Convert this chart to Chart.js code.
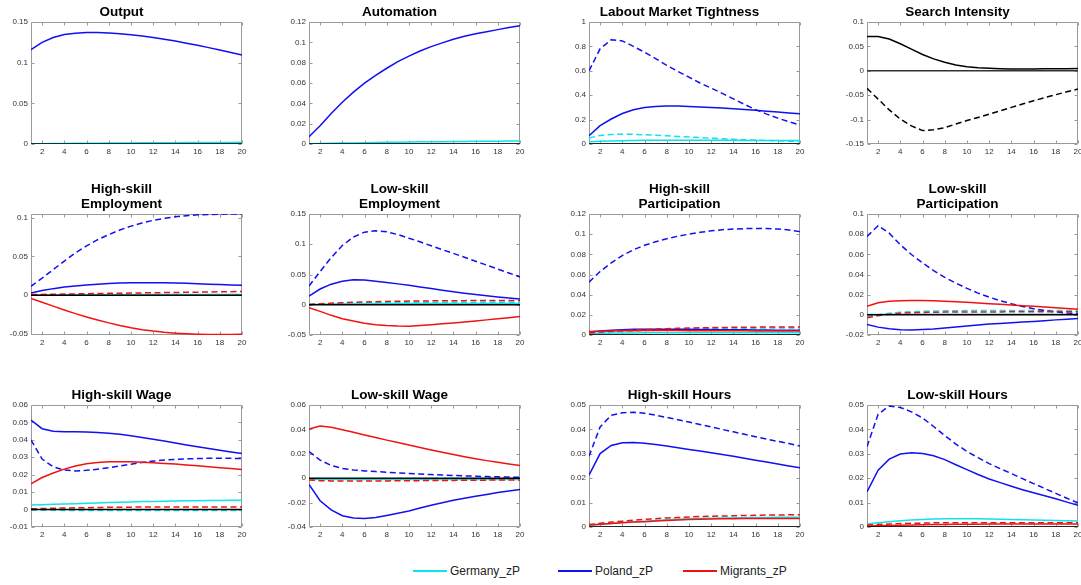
<!DOCTYPE html>
<html>
<head>
<meta charset="utf-8">
<script src="https://cdn.jsdelivr.net/npm/chart.js@4.4.1/dist/chart.umd.min.js"></script>
<style>
  html, body { margin: 0; padding: 0; background: #fff; width: 1081px; height: 585px; overflow: hidden; position: relative; }
  canvas { position: absolute; }
  .lg-item { position: absolute; top: 563px; height: 16px; font: 12px "Liberation Sans", Arial, Helvetica, sans-serif; color: #222; white-space: nowrap; }
  .lg-swatch { position: absolute; left: 0; top: 7px; width: 34px; height: 1.5px; }
  .lg-text { position: absolute; left: 37px; top: 0; line-height: 16px; }
</style>
</head>
<body>
<script>
// ---- horizon and axis ticks ----
const periods = [1, 2, 3, 4, 5, 6, 7, 8, 9, 10, 11, 12, 13, 14, 15, 16, 17, 18, 19, 20];
const xTickValues = [2, 4, 6, 8, 10, 12, 14, 16, 18, 20];
const zeroLine = [0, 0, 0, 0, 0, 0, 0, 0, 0, 0, 0, 0, 0, 0, 0, 0, 0, 0, 0, 0];

// ---- Output ----
const outputTicks = [0, 0.05, 0.1, 0.15];
const outputPoland = [0.116, 0.125, 0.131, 0.1345, 0.1362, 0.137, 0.1372, 0.1366, 0.1356, 0.1343, 0.1327, 0.1308, 0.1288, 0.1265, 0.124, 0.1213, 0.1185, 0.1155, 0.1125, 0.1095];
const outputGermany = [0.0002, 0.0003, 0.0005, 0.0006, 0.0008, 0.0009, 0.001, 0.0011, 0.0012, 0.0013, 0.0014, 0.0015, 0.0016, 0.0016, 0.0017, 0.0018, 0.0018, 0.0019, 0.0019, 0.002];

// ---- Automation ----
const automationTicks = [0, 0.02, 0.04, 0.06, 0.08, 0.1, 0.12];
const automationPoland = [0.0072, 0.018, 0.03, 0.041, 0.051, 0.0598, 0.0675, 0.0745, 0.081, 0.0865, 0.0915, 0.0958, 0.0995, 0.103, 0.106, 0.1085, 0.1105, 0.1125, 0.1145, 0.1162];
const automationGermany = [0.0003, 0.0005, 0.0007, 0.0009, 0.0011, 0.0013, 0.0015, 0.0016, 0.0018, 0.0019, 0.0021, 0.0022, 0.0023, 0.0024, 0.0025, 0.0026, 0.0027, 0.0028, 0.0029, 0.003];

// ---- Labour market tightness ----
const tightnessTicks = [0, 0.2, 0.4, 0.6, 0.8, 1];
const tightnessPoland = [0.068, 0.15, 0.205, 0.25, 0.28, 0.3, 0.308, 0.312, 0.311, 0.308, 0.304, 0.3, 0.295, 0.289, 0.283, 0.276, 0.269, 0.262, 0.255, 0.247];
const tightnessPolandAlt = [0.6, 0.78, 0.855, 0.845, 0.8, 0.752, 0.7, 0.645, 0.595, 0.548, 0.5, 0.458, 0.415, 0.37, 0.325, 0.282, 0.245, 0.212, 0.183, 0.156];
const tightnessGermany = [0.018, 0.022, 0.025, 0.027, 0.029, 0.03, 0.031, 0.031, 0.031, 0.031, 0.031, 0.03, 0.03, 0.03, 0.029, 0.029, 0.029, 0.028, 0.028, 0.028];
const tightnessGermanyAlt = [0.05, 0.07, 0.078, 0.08, 0.079, 0.076, 0.072, 0.067, 0.062, 0.057, 0.052, 0.047, 0.043, 0.039, 0.035, 0.032, 0.029, 0.026, 0.023, 0.02];

// ---- Search intensity ----
const searchTicks = [-0.15, -0.1, -0.05, 0, 0.05, 0.1];
const searchIntensity = [0.0705, 0.0705, 0.065, 0.0555, 0.0445, 0.0335, 0.0245, 0.0175, 0.012, 0.0085, 0.0063, 0.005, 0.0042, 0.0038, 0.0037, 0.0038, 0.004, 0.0042, 0.0044, 0.0046];
const searchIntensityAlt = [-0.036, -0.058, -0.08, -0.099, -0.113, -0.1225, -0.121, -0.1165, -0.109, -0.102, -0.0955, -0.089, -0.082, -0.075, -0.068, -0.0615, -0.055, -0.049, -0.043, -0.0375];

// ---- High-skill employment ----
const hsEmpTicks = [-0.05, 0, 0.05, 0.1];
const hsEmpPoland = [0.003, 0.006, 0.0085, 0.0105, 0.012, 0.0133, 0.0143, 0.015, 0.0156, 0.016, 0.0162, 0.0162, 0.016, 0.0157, 0.0153, 0.0148, 0.0143, 0.0138, 0.0133, 0.0128];
const hsEmpPolandAlt = [0.0115, 0.022, 0.033, 0.044, 0.0545, 0.0635, 0.0715, 0.078, 0.084, 0.089, 0.093, 0.0965, 0.099, 0.101, 0.1025, 0.1035, 0.104, 0.1044, 0.1045, 0.1045];
const hsEmpMigrants = [-0.0043, -0.009, -0.014, -0.019, -0.0237, -0.028, -0.032, -0.0356, -0.039, -0.042, -0.0443, -0.0462, -0.0477, -0.0488, -0.0496, -0.0501, -0.0504, -0.0505, -0.0504, -0.0502];
const hsEmpMigrantsAlt = [0.0008, 0.001, 0.0013, 0.0015, 0.0017, 0.002, 0.0022, 0.0024, 0.0026, 0.0028, 0.003, 0.0032, 0.0034, 0.0036, 0.0038, 0.004, 0.0042, 0.0044, 0.0046, 0.0048];
const hsEmpGermany = [0.0002, 0.0003, 0.0004, 0.0005, 0.0005, 0.0006, 0.0006, 0.0007, 0.0007, 0.0007, 0.0008, 0.0008, 0.0008, 0.0008, 0.0008, 0.0009, 0.0009, 0.0009, 0.0009, 0.0009];

// ---- Low-skill employment ----
const lsEmpTicks = [-0.05, 0, 0.05, 0.1, 0.15];
const lsEmpPoland = [0.0144, 0.026, 0.034, 0.039, 0.0412, 0.0408, 0.039, 0.0368, 0.0345, 0.0322, 0.0295, 0.0267, 0.024, 0.0213, 0.019, 0.0168, 0.0148, 0.013, 0.0112, 0.0095];
const lsEmpPolandAlt = [0.031, 0.055, 0.078, 0.098, 0.112, 0.12, 0.1222, 0.1205, 0.116, 0.11, 0.104, 0.0975, 0.091, 0.085, 0.0785, 0.072, 0.0655, 0.059, 0.0525, 0.046];
const lsEmpMigrants = [-0.005, -0.011, -0.0175, -0.023, -0.027, -0.0305, -0.033, -0.0344, -0.0352, -0.0355, -0.0343, -0.033, -0.0316, -0.03, -0.0284, -0.0267, -0.025, -0.0233, -0.0213, -0.0194];
const lsEmpMigrantsAlt = [0.0005, 0.0015, 0.0025, 0.0033, 0.004, 0.0046, 0.0051, 0.0055, 0.0058, 0.006, 0.0062, 0.0064, 0.0066, 0.0067, 0.0068, 0.0069, 0.007, 0.007, 0.007, 0.007];
const lsEmpGermany = [0.0006, 0.001, 0.0013, 0.0015, 0.0017, 0.0018, 0.0019, 0.002, 0.002, 0.0021, 0.0021, 0.0021, 0.0021, 0.0021, 0.0021, 0.0021, 0.0021, 0.0021, 0.0021, 0.0021];
const lsEmpGermanyAlt = [0.001, 0.0016, 0.0021, 0.0025, 0.0028, 0.003, 0.0032, 0.0034, 0.0035, 0.0036, 0.0037, 0.0038, 0.0038, 0.0039, 0.0039, 0.0039, 0.004, 0.004, 0.004, 0.004];

// ---- High-skill participation ----
const hsPartTicks = [0, 0.02, 0.04, 0.06, 0.08, 0.1, 0.12];
const hsPartPoland = [0.003, 0.004, 0.0048, 0.0053, 0.0056, 0.0058, 0.0058, 0.0058, 0.0057, 0.0056, 0.0055, 0.0054, 0.0053, 0.0052, 0.0051, 0.005, 0.0049, 0.0048, 0.0047, 0.0046];
const hsPartPolandAlt = [0.0524, 0.063, 0.0715, 0.0788, 0.0845, 0.089, 0.0925, 0.0955, 0.098, 0.1, 0.1018, 0.1033, 0.1044, 0.1051, 0.1055, 0.1056, 0.1055, 0.1051, 0.1042, 0.1025];
const hsPartMigrants = [0.0035, 0.0038, 0.004, 0.0042, 0.0043, 0.0044, 0.0044, 0.0044, 0.0044, 0.0043, 0.0043, 0.0042, 0.0042, 0.0041, 0.0041, 0.004, 0.004, 0.004, 0.0039, 0.0039];
const hsPartMigrantsAlt = [0.002, 0.003, 0.0038, 0.0045, 0.005, 0.0055, 0.0059, 0.0063, 0.0066, 0.0069, 0.0071, 0.0073, 0.0075, 0.0076, 0.0077, 0.0078, 0.0079, 0.008, 0.008, 0.008];
const hsPartGermany = [0.0015, 0.0017, 0.0019, 0.002, 0.0021, 0.0022, 0.0022, 0.0022, 0.0022, 0.0022, 0.0022, 0.0022, 0.0022, 0.0022, 0.0022, 0.0022, 0.0022, 0.0022, 0.0022, 0.0022];
const hsPartGermanyAlt = [0.001, 0.002, 0.0028, 0.0035, 0.004, 0.0045, 0.0049, 0.0053, 0.0056, 0.0059, 0.0061, 0.0063, 0.0065, 0.0066, 0.0067, 0.0068, 0.0069, 0.007, 0.007, 0.007];

// ---- Low-skill participation ----
const lsPartTicks = [-0.02, 0, 0.02, 0.04, 0.06, 0.08, 0.1];
const lsPartPoland = [-0.0095, -0.0122, -0.0138, -0.0147, -0.015, -0.0146, -0.014, -0.013, -0.012, -0.011, -0.01, -0.0092, -0.0085, -0.0078, -0.0072, -0.0066, -0.0058, -0.005, -0.0044, -0.0037];
const lsPartPolandAlt = [0.0778, 0.0885, 0.081, 0.0695, 0.0598, 0.0515, 0.0438, 0.0372, 0.0315, 0.0262, 0.0215, 0.0175, 0.014, 0.011, 0.0083, 0.006, 0.0042, 0.0028, 0.0018, 0.0012];
const lsPartMigrants = [0.0085, 0.012, 0.0134, 0.014, 0.0142, 0.0141, 0.0139, 0.0135, 0.013, 0.0124, 0.0117, 0.011, 0.0104, 0.0098, 0.0091, 0.0085, 0.0078, 0.0071, 0.0063, 0.0056];
const lsPartMigrantsAlt = [-0.003, -0.0008, 0.0007, 0.0016, 0.0021, 0.0024, 0.0026, 0.0027, 0.0028, 0.0028, 0.0029, 0.0029, 0.0029, 0.003, 0.003, 0.003, 0.003, 0.003, 0.003, 0.003];
const lsPartGermany = [0.0003, 0.0004, 0.0005, 0.0006, 0.0006, 0.0007, 0.0007, 0.0007, 0.0007, 0.0007, 0.0007, 0.0007, 0.0007, 0.0007, 0.0007, 0.0007, 0.0007, 0.0007, 0.0007, 0.0007];
const lsPartGermanyAlt = [-0.002, 0, 0.0015, 0.0025, 0.003, 0.0035, 0.0038, 0.004, 0.0041, 0.0042, 0.0042, 0.0043, 0.0043, 0.0043, 0.0043, 0.0043, 0.0043, 0.0043, 0.0043, 0.0043];

// ---- High-skill wage ----
const hsWageTicks = [-0.01, 0, 0.01, 0.02, 0.03, 0.04, 0.05, 0.06];
const hsWagePoland = [0.0514, 0.0464, 0.0449, 0.0447, 0.0446, 0.0445, 0.0442, 0.0438, 0.0432, 0.0423, 0.0414, 0.0404, 0.0393, 0.0382, 0.0371, 0.036, 0.035, 0.034, 0.0331, 0.0322];
const hsWagePolandAlt = [0.0399, 0.029, 0.0245, 0.0227, 0.0222, 0.0225, 0.0232, 0.024, 0.025, 0.026, 0.027, 0.0278, 0.0284, 0.0288, 0.0291, 0.0293, 0.0294, 0.0295, 0.0294, 0.0293];
const hsWageMigrants = [0.0148, 0.0184, 0.021, 0.0232, 0.025, 0.0263, 0.027, 0.0274, 0.0275, 0.0274, 0.0272, 0.0268, 0.0265, 0.0261, 0.0256, 0.0251, 0.0246, 0.024, 0.0235, 0.023];
const hsWageMigrantsAlt = [0.0004, 0.0006, 0.0008, 0.0009, 0.001, 0.0011, 0.0012, 0.0013, 0.0014, 0.0014, 0.0015, 0.0015, 0.0015, 0.0015, 0.0015, 0.0015, 0.0015, 0.0015, 0.0015, 0.0015];
const hsWageGermany = [0.0026, 0.0028, 0.003, 0.0032, 0.0034, 0.0036, 0.0038, 0.004, 0.0042, 0.0044, 0.0046, 0.0047, 0.0048, 0.0049, 0.005, 0.0051, 0.0052, 0.0052, 0.0053, 0.0053];
const hsWageGermanyAlt = [-0.0003, -0.0004, -0.0004, -0.0005, -0.0005, -0.0005, -0.0005, -0.0005, -0.0005, -0.0005, -0.0005, -0.0005, -0.0005, -0.0005, -0.0005, -0.0005, -0.0005, -0.0005, -0.0005, -0.0005];

// ---- Low-skill wage ----
const lsWageTicks = [-0.04, -0.02, 0, 0.02, 0.04, 0.06];
const lsWagePoland = [-0.0052, -0.0185, -0.026, -0.0308, -0.0327, -0.0331, -0.0322, -0.0306, -0.0288, -0.0268, -0.0245, -0.0222, -0.0201, -0.0181, -0.0164, -0.0148, -0.0133, -0.0118, -0.0105, -0.0093];
const lsWagePolandAlt = [0.0219, 0.0148, 0.0105, 0.008, 0.0068, 0.006, 0.0054, 0.0049, 0.0043, 0.0038, 0.0034, 0.003, 0.0026, 0.0022, 0.0019, 0.0016, 0.0013, 0.0011, 0.0009, 0.0008];
const lsWageMigrants = [0.0403, 0.0427, 0.0418, 0.0398, 0.0376, 0.0354, 0.0333, 0.0312, 0.0292, 0.0272, 0.0252, 0.0232, 0.0213, 0.0194, 0.0176, 0.0159, 0.0144, 0.013, 0.0117, 0.0104];
const lsWageMigrantsAlt = [-0.0015, -0.002, -0.0022, -0.0023, -0.0023, -0.0023, -0.0022, -0.0022, -0.0021, -0.002, -0.002, -0.0019, -0.0018, -0.0018, -0.0017, -0.0016, -0.0016, -0.0015, -0.0015, -0.0014];
const lsWageGermany = [-0.0008, -0.001, -0.0011, -0.0011, -0.0011, -0.0011, -0.0011, -0.0011, -0.0011, -0.0011, -0.0011, -0.0011, -0.0011, -0.0011, -0.0011, -0.0011, -0.0011, -0.0011, -0.0011, -0.0011];

// ---- High-skill hours ----
const hsHoursTicks = [0, 0.01, 0.02, 0.03, 0.04, 0.05];
const hsHoursPoland = [0.0212, 0.0301, 0.0334, 0.0345, 0.0346, 0.0343, 0.0338, 0.0332, 0.0325, 0.0318, 0.0311, 0.0304, 0.0297, 0.029, 0.0282, 0.0274, 0.0266, 0.0258, 0.025, 0.0243];
const hsHoursPolandAlt = [0.029, 0.041, 0.0458, 0.0468, 0.047, 0.0466, 0.0458, 0.0449, 0.044, 0.043, 0.042, 0.041, 0.04, 0.039, 0.038, 0.037, 0.036, 0.0351, 0.0342, 0.0332];
const hsHoursMigrants = [0.0008, 0.0011, 0.0014, 0.0017, 0.002, 0.0022, 0.0025, 0.0027, 0.0029, 0.0031, 0.0032, 0.0033, 0.0034, 0.0034, 0.0035, 0.0035, 0.0035, 0.0035, 0.0035, 0.0035];
const hsHoursMigrantsAlt = [0.001, 0.0015, 0.002, 0.0024, 0.0028, 0.0031, 0.0034, 0.0037, 0.0039, 0.0041, 0.0043, 0.0044, 0.0045, 0.0046, 0.0047, 0.0048, 0.0049, 0.0049, 0.005, 0.005];
const hsHoursGermany = [0.0007, 0.001, 0.0014, 0.0018, 0.0021, 0.0024, 0.0027, 0.003, 0.0032, 0.0034, 0.0035, 0.0036, 0.0037, 0.0038, 0.0038, 0.0039, 0.0039, 0.004, 0.004, 0.004];

// ---- Low-skill hours ----
const lsHoursTicks = [0, 0.01, 0.02, 0.03, 0.04, 0.05];
const lsHoursPoland = [0.0144, 0.0233, 0.0278, 0.0299, 0.0304, 0.0301, 0.0292, 0.0276, 0.0255, 0.0235, 0.0215, 0.0197, 0.0182, 0.0167, 0.0153, 0.014, 0.0128, 0.0116, 0.0102, 0.0089];
const lsHoursPolandAlt = [0.0329, 0.0462, 0.0496, 0.049, 0.0472, 0.0447, 0.0412, 0.0375, 0.034, 0.031, 0.0284, 0.026, 0.0239, 0.0219, 0.0198, 0.0178, 0.0158, 0.0138, 0.0118, 0.0099];
const lsHoursMigrants = [0.0004, 0.0005, 0.0006, 0.0007, 0.0008, 0.0009, 0.001, 0.001, 0.0011, 0.0011, 0.0011, 0.0012, 0.0012, 0.0012, 0.0012, 0.0012, 0.0012, 0.0012, 0.0012, 0.0012];
const lsHoursMigrantsAlt = [0.0008, 0.001, 0.0012, 0.0014, 0.0015, 0.0016, 0.0017, 0.0017, 0.0017, 0.0017, 0.0017, 0.0017, 0.0017, 0.0017, 0.0017, 0.0017, 0.0017, 0.0017, 0.0017, 0.0017];
const lsHoursGermany = [0.0012, 0.0017, 0.0022, 0.0026, 0.0029, 0.0031, 0.0033, 0.0034, 0.0034, 0.0034, 0.0034, 0.0033, 0.0032, 0.0031, 0.003, 0.0029, 0.0028, 0.0027, 0.0026, 0.0025];

// ---- legend ----
const legendNames = ['Germany_zP', 'Poland_zP', 'Migrants_zP'];

// ---- styling ----
const FONT = '"Liberation Sans", Arial, Helvetica, sans-serif';
const CYAN = '#10e2ea';
const BLUE = '#1010f0';
const RED = '#f01212';
const BLACK = '#000000';
const DASH = [6, 3.5];
const LINE_W = 1.5;
const legendColors = [CYAN, BLUE, RED];

// plot-area geometry (pixels)
const COL_LEFT = [31, 309, 589, 867];
const PLOT_W = 211;
const ROWS = [
  { top: 22, h: 122 },
  { top: 214, h: 121 },
  { top: 405, h: 122 }
];
const SIDE = 30;      // y-axis band on the left, equal padding on the right
const X_AXIS_H = 16;
const TITLE_LH = 15;
const TITLE_PAD = 2;
const TICK_LEN = 3;

const S = (data, color, dashed) => ({ data, color, dashed: !!dashed });

const panels = [
  { title: ['Output'], ticks: outputTicks, lines: [
      S(zeroLine, BLACK), S(outputPoland, BLUE), S(outputGermany, CYAN)] },
  { title: ['Automation'], ticks: automationTicks, lines: [
      S(zeroLine, BLACK), S(automationPoland, BLUE), S(automationGermany, CYAN)] },
  { title: ['Labout Market Tightness'], ticks: tightnessTicks, lines: [
      S(zeroLine, BLACK), S(tightnessPoland, BLUE), S(tightnessPolandAlt, BLUE, true),
      S(tightnessGermany, CYAN), S(tightnessGermanyAlt, CYAN, true)] },
  { title: ['Search Intensity'], ticks: searchTicks, lines: [
      S(zeroLine, '#333333'), S(searchIntensity, BLACK), S(searchIntensityAlt, BLACK, true)] },

  { title: ['High-skill', 'Employment'], ticks: hsEmpTicks, min: -0.0512, max: 0.1046, lines: [
      S(zeroLine, BLACK), S(hsEmpMigrants, RED), S(hsEmpMigrantsAlt, RED, true),
      S(hsEmpPoland, BLUE), S(hsEmpPolandAlt, BLUE, true), S(hsEmpGermany, CYAN)] },
  { title: ['Low-skill', 'Employment'], ticks: lsEmpTicks, lines: [
      S(zeroLine, BLACK), S(lsEmpMigrants, RED), S(lsEmpMigrantsAlt, RED, true),
      S(lsEmpPoland, BLUE), S(lsEmpPolandAlt, BLUE, true),
      S(lsEmpGermany, CYAN), S(lsEmpGermanyAlt, CYAN, true)] },
  { title: ['High-skill', 'Participation'], ticks: hsPartTicks, lines: [
      S(zeroLine, BLACK), S(hsPartMigrants, RED), S(hsPartMigrantsAlt, RED, true),
      S(hsPartPoland, BLUE), S(hsPartPolandAlt, BLUE, true),
      S(hsPartGermany, CYAN), S(hsPartGermanyAlt, CYAN, true)] },
  { title: ['Low-skill', 'Participation'], ticks: lsPartTicks, lines: [
      S(zeroLine, BLACK), S(lsPartMigrants, RED), S(lsPartMigrantsAlt, RED, true),
      S(lsPartPoland, BLUE), S(lsPartPolandAlt, BLUE, true),
      S(lsPartGermany, CYAN), S(lsPartGermanyAlt, CYAN, true)] },

  { title: ['High-skill Wage'], ticks: hsWageTicks, lines: [
      S(zeroLine, BLACK), S(hsWageMigrants, RED), S(hsWageMigrantsAlt, RED, true),
      S(hsWagePoland, BLUE), S(hsWagePolandAlt, BLUE, true),
      S(hsWageGermany, CYAN), S(hsWageGermanyAlt, CYAN, true)] },
  { title: ['Low-skill Wage'], ticks: lsWageTicks, lines: [
      S(zeroLine, BLACK), S(lsWageMigrants, RED), S(lsWageMigrantsAlt, RED, true),
      S(lsWagePoland, BLUE), S(lsWagePolandAlt, BLUE, true), S(lsWageGermany, CYAN)] },
  { title: ['High-skill Hours'], ticks: hsHoursTicks, lines: [
      S(zeroLine, BLACK), S(hsHoursMigrants, RED), S(hsHoursMigrantsAlt, RED, true),
      S(hsHoursPoland, BLUE), S(hsHoursPolandAlt, BLUE, true), S(hsHoursGermany, CYAN)] },
  { title: ['Low-skill Hours'], ticks: lsHoursTicks, lines: [
      S(zeroLine, BLACK), S(lsHoursMigrants, RED), S(lsHoursMigrantsAlt, RED, true),
      S(lsHoursPoland, BLUE), S(lsHoursPolandAlt, BLUE, true), S(lsHoursGermany, CYAN)] }
];

// box around the axes with short inward ticks on all four sides
const axesFrame = {
  id: 'axesFrame',
  beforeDatasetsDraw(chart) {
    const { ctx, chartArea: a, scales: { x, y } } = chart;
    const l = Math.round(a.left) + 0.5, r = Math.round(a.right) - 0.5;
    const t = Math.round(a.top) + 0.5, b = Math.round(a.bottom) - 0.5;
    ctx.save();
    ctx.strokeStyle = '#9a9a9a';
    ctx.lineWidth = 1;
    ctx.beginPath();
    ctx.rect(l, t, r - l, b - t);
    x.ticks.forEach(tk => {
      const px = Math.round(x.getPixelForValue(tk.value)) + 0.5;
      ctx.moveTo(px, b); ctx.lineTo(px, b - TICK_LEN);
      ctx.moveTo(px, t); ctx.lineTo(px, t + TICK_LEN);
    });
    y.ticks.forEach(tk => {
      const py = Math.round(y.getPixelForValue(tk.value)) + 0.5;
      ctx.moveTo(l, py); ctx.lineTo(l + TICK_LEN, py);
      ctx.moveTo(r, py); ctx.lineTo(r - TICK_LEN, py);
    });
    ctx.stroke();
    ctx.restore();
  }
};

const fmt = v => String(parseFloat(Number(v).toFixed(6)));

panels.forEach((p, i) => {
  const col = i % 4, row = ROWS[Math.floor(i / 4)];
  const titleH = p.title.length * TITLE_LH + TITLE_PAD;
  const canvas = document.createElement('canvas');
  const w = SIDE + PLOT_W + SIDE;
  const h = titleH + row.h + X_AXIS_H;
  canvas.width = w; canvas.height = h;
  canvas.style.width = w + 'px'; canvas.style.height = h + 'px';
  canvas.style.left = (COL_LEFT[col] - SIDE) + 'px';
  canvas.style.top = (row.top - titleH) + 'px';
  document.body.appendChild(canvas);

  const yMin = p.min !== undefined ? p.min : p.ticks[0];
  const yMax = p.max !== undefined ? p.max : p.ticks[p.ticks.length - 1];

  new Chart(canvas, {
    type: 'line',
    data: {
      datasets: p.lines.map(s => ({
        data: periods.map((t, k) => ({ x: t, y: s.data[k] })),
        borderColor: s.color,
        borderWidth: s.color === BLACK || s.color === '#333333' ? 1.5 : LINE_W,
        borderDash: s.dashed ? DASH : [],
        pointRadius: 0,
        tension: 0,
        fill: false
      }))
    },
    options: {
      responsive: false,
      animation: false,
      events: [],
      layout: { padding: { left: 0, right: SIDE, top: 0, bottom: 0 } },
      plugins: {
        legend: { display: false },
        tooltip: { enabled: false },
        title: {
          display: true,
          text: p.title,
          color: '#000',
          font: { family: FONT, size: 13.5, weight: 'bold', lineHeight: TITLE_LH + 'px' },
          padding: { top: 0, bottom: TITLE_PAD }
        }
      },
      scales: {
        x: {
          type: 'linear', min: 1, max: 20,
          grid: { display: false, drawTicks: false },
          border: { display: false },
          ticks: { font: { family: FONT, size: 8 }, color: '#333', padding: 3, maxRotation: 0, autoSkip: false, callback: v => String(v) },
          afterBuildTicks: s => { s.ticks = xTickValues.map(v => ({ value: v })); },
          afterFit: s => { s.height = X_AXIS_H; }
        },
        y: {
          type: 'linear', min: yMin, max: yMax,
          grid: { display: false, drawTicks: false },
          border: { display: false },
          ticks: { font: { family: FONT, size: 8 }, color: '#333', padding: 3, autoSkip: false, callback: v => fmt(v) },
          afterBuildTicks: s => { s.ticks = p.ticks.map(v => ({ value: v })); },
          afterFit: s => { s.width = SIDE; }
        }
      }
    },
    plugins: [axesFrame]
  });
});

// legend row under the grid
const legendLeft = [413, 558, 683];
legendNames.forEach((name, i) => {
  const item = document.createElement('div');
  item.className = 'lg-item';
  item.style.left = legendLeft[i] + 'px';
  const sw = document.createElement('div');
  sw.className = 'lg-swatch';
  sw.style.background = legendColors[i];
  const tx = document.createElement('span');
  tx.className = 'lg-text';
  tx.textContent = name;
  item.appendChild(sw); item.appendChild(tx);
  document.body.appendChild(item);
});
</script>
</body>
</html>
